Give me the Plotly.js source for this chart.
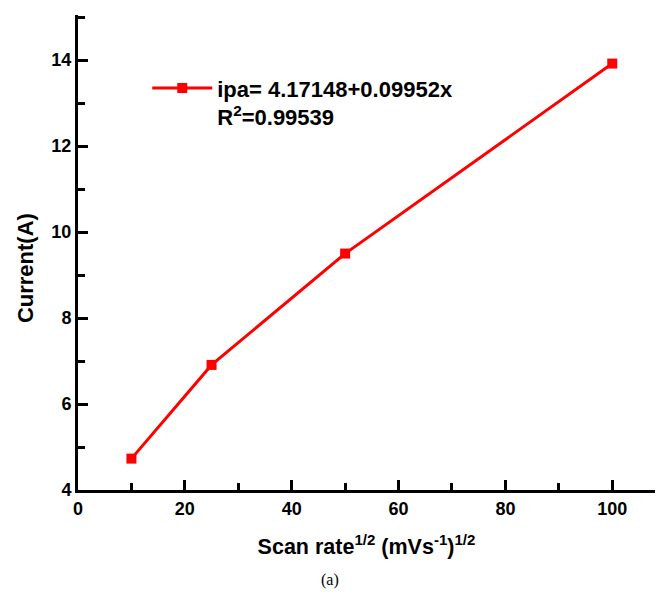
<!DOCTYPE html>
<html><head><meta charset="utf-8">
<script src="https://cdn.plot.ly/plotly-3.0.1.min.js"></script>
<style>html,body{margin:0;padding:0;background:#fff}#chart{width:656px;height:596px}</style>
</head><body><div id="chart"></div>
<script>
const scanRate = [10, 25, 50, 100];
const current = [4.73, 6.91, 9.5, 13.92];
const seriesName = "ipa= 4.17148+0.09952x<br>R<sup>2</sup>=0.99539";
const xTitle = "Scan rate<sup>1/2</sup> (mVs<sup>-1</sup>)<sup>1/2</sup>";
const yTitle = "Current(A)";
const caption = "(a)";

const FONT = "Liberation Sans, Arial, sans-serif";
const trace = {
  x: scanRate, y: current, type: 'scatter', mode: 'lines+markers',
  name: seriesName,
  line: {color: '#ff0000', width: 3},
  marker: {symbol: 'square', size: 10, color: '#ff0000'}
};
const axisCommon = {
  showline: true, linecolor: '#000', linewidth: 3, mirror: false,
  ticks: 'inside', ticklen: 10, tickwidth: 3, tickcolor: '#000',
  showgrid: false, zeroline: false,
  tickfont: {family: FONT, size: 18, color: '#000', weight: 'bold'}
};
const layout = {
  width: 656, height: 596,
  margin: {l: 78, r: 1, t: 15, b: 106},
  paper_bgcolor: '#fff', plot_bgcolor: '#fff',
  font: {family: FONT, color: '#000'},
  showlegend: true,
  legend: {x: 0.12, y: 0.89, xanchor: 'left', yanchor: 'top', bgcolor: 'rgba(0,0,0,0)',
    font: {family: FONT, size: 22, color: '#000', weight: 'bold'}, valign: 'top', itemwidth: 60},
  xaxis: Object.assign({}, axisCommon, {
    range: [0, 108], dtick: 20, tick0: 0,
    minor: {ticks: 'inside', ticklen: 7, tickwidth: 3, tickcolor: '#000', dtick: 10},
    title: {text: xTitle, standoff: 22, font: {family: FONT, size: 21.5, color: '#000', weight: 'bold'}}
  }),
  yaxis: Object.assign({}, axisCommon, {
    range: [4, 15.05], dtick: 2, tick0: 4,
    minor: {ticks: 'inside', ticklen: 7, tickwidth: 3, tickcolor: '#000', dtick: 1},
    title: {text: ''}
  }),
  annotations: [{
    text: yTitle, xref: 'paper', yref: 'paper', x: -0.092, y: 0.467, xanchor: 'center', yanchor: 'middle',
    textangle: -90, showarrow: false, font: {family: FONT, size: 22, color: '#000', weight: 'bold'}
  }, {
    text: caption, xref: 'paper', yref: 'paper', x: 0.436, y: -0.189, yanchor: 'middle',
    showarrow: false, font: {family: 'Liberation Serif, Times New Roman, serif', size: 16, color: '#000'}
  }]
};
Plotly.newPlot('chart', [trace], layout, {displayModeBar: false, staticPlot: true});
</script></body></html>
